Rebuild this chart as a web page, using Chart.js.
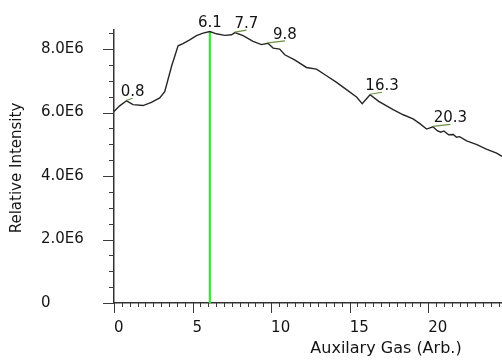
<!DOCTYPE html>
<html>
<head>
<meta charset="utf-8">
<script src="https://cdn.jsdelivr.net/npm/chart.js@4/dist/chart.umd.min.js"></script>
<style>
  html, body { margin: 0; padding: 0; background: #fff; }
  canvas { display: block; }
</style>
</head>
<body>
<canvas id="gasChart" width="502" height="361"></canvas>
<script>
// auxiliary gas sweep; intensity is in units of 1E6
const auxGas = [
  0.00, 0.36, 0.80, 1.21, 1.85, 2.38, 2.91, 3.23, 3.66, 4.08,
  4.39, 4.82, 5.25, 5.67, 6.10, 6.52, 7.05, 7.48, 7.70, 8.22,
  8.85, 9.39, 9.80, 10.13, 10.55, 10.87, 11.50, 12.25, 12.89, 13.53,
  14.17, 14.80, 15.44, 15.80, 16.30, 16.85, 17.77, 18.41, 19.04, 19.47,
  19.90, 20.30, 20.60, 20.81, 21.00, 21.30, 21.60, 21.80, 22.00, 22.45,
  23.10, 23.70, 24.36, 24.70
];
const intensity = [
  6.03, 6.21, 6.37, 6.25, 6.22, 6.32, 6.46, 6.66, 7.45, 8.10,
  8.17, 8.29, 8.42, 8.50, 8.55, 8.48, 8.43, 8.45, 8.52, 8.42,
  8.24, 8.14, 8.18, 8.03, 8.00, 7.82, 7.66, 7.42, 7.37, 7.16,
  6.95, 6.72, 6.49, 6.28, 6.56, 6.35, 6.09, 5.93, 5.80, 5.65,
  5.48, 5.55, 5.42, 5.38, 5.42, 5.30, 5.31, 5.22, 5.24, 5.11,
  4.99, 4.85, 4.72, 4.62
];

// labelled peaks and the chosen setting
const peakGas = [0.8, 6.1, 7.7, 9.8, 16.3, 20.3];
const optimumGas = 6.1;

const xTickLabels = ['0', '5', '10', '15', '20'];
const yTickLabels = ['0', '2.0E6', '4.0E6', '6.0E6', '8.0E6'];

const FONT = 'DejaVu Sans';
const INK = '#141414';

// how far right each peak label sits from its peak
const leaderDx = [6, 0, 11.5, 17, 12, 17.5];

function intensityAt(g) {
  return intensity[auxGas.indexOf(g)];
}

// drop the label overhang padding so the plot area is exactly where the layout puts it
function noOverhang(s) {
  s.paddingTop = 0;
  s.paddingBottom = 0;
  s.paddingLeft = 0;
  s.paddingRight = 0;
}

// minor/major tick marks, axis titles and the peak labels
const decorations = {
  id: 'decorations',
  afterDraw(chart) {
    const { ctx, chartArea: area, scales: { x, y } } = chart;
    ctx.save();

    ctx.strokeStyle = '#3a3a3a';
    ctx.lineWidth = 1;
    ctx.beginPath();
    x.ticks.forEach(t => {
      const px = Math.round(x.getPixelForValue(t.value)) + 0.5;
      const len = t.value % 5 === 0 ? 10 : 4;
      ctx.moveTo(px, area.bottom);
      ctx.lineTo(px, area.bottom + len);
    });
    y.ticks.forEach(t => {
      const py = Math.round(y.getPixelForValue(t.value)) + 0.5;
      const len = t.value % 2 === 0 ? 11 : 5;
      ctx.moveTo(area.left, py);
      ctx.lineTo(area.left - len, py);
    });
    ctx.stroke();

    ctx.fillStyle = INK;
    ctx.textAlign = 'center';
    ctx.textBaseline = 'middle';
    ctx.font = '16px "' + FONT + '"';
    ctx.fillText('Auxilary Gas (Arb.)', 386, 349);

    ctx.save();
    ctx.translate(17, 168);
    ctx.rotate(-Math.PI / 2);
    ctx.font = '15px "' + FONT + '"';
    ctx.fillText('Relative Intensity', 0, 0);
    ctx.restore();

    ctx.font = '15px "' + FONT + '"';
    ctx.lineWidth = 1.2;
    peakGas.forEach((g, i) => {
      const px = x.getPixelForValue(g);
      const py = y.getPixelForValue(intensityAt(g));
      const dx = leaderDx[i];
      if (dx > 0) {
        ctx.strokeStyle = '#6d8f3f';
        ctx.beginPath();
        ctx.moveTo(px, py - 0.5);
        ctx.lineTo(px + dx, py - 2.5);
        ctx.stroke();
      }
      ctx.fillText(g.toFixed(1), px + dx, py - 8.5);
    });

    ctx.restore();
  }
};

new Chart(document.getElementById('gasChart'), {
  type: 'line',
  data: {
    datasets: [
      {
        data: auxGas.map((g, i) => ({ x: g, y: intensity[i] })),
        borderColor: '#262626',
        borderWidth: 1.4,
        pointRadius: 0,
        tension: 0
      },
      {
        data: [{ x: optimumGas, y: 0 }, { x: optimumGas, y: intensityAt(optimumGas) }],
        borderColor: '#3ae43a',
        borderWidth: 2.2,
        pointRadius: 0
      }
    ]
  },
  options: {
    responsive: false,
    animation: false,
    devicePixelRatio: 1,
    layout: { padding: { top: 30, right: 0, bottom: 0, left: 41 } },
    plugins: { legend: { display: false }, tooltip: { enabled: false } },
    scales: {
      x: {
        type: 'linear',
        min: 0,
        max: 24.7,
        border: { color: '#333', width: 1.5 },
        grid: { display: false, drawTicks: false },
        ticks: {
          stepSize: 0.5,
          autoSkip: false,
          maxRotation: 0,
          includeBounds: false,
          align: 'start',
          padding: 16,
          color: INK,
          font: { family: FONT, size: 15 },
          callback: v => (v % 5 === 0 ? xTickLabels[v / 5] : '')
        },
        afterFit: s => { s.height = 58; noOverhang(s); }
      },
      y: {
        min: 0,
        max: 8.6,
        border: { color: '#333', width: 1.5 },
        grid: { display: false, drawTicks: false },
        ticks: {
          stepSize: 0.5,
          autoSkip: false,
          includeBounds: false,
          crossAlign: 'far',
          padding: 30,
          color: INK,
          font: { family: FONT, size: 15 },
          callback: v => (v % 2 === 0 ? yTickLabels[v / 2] : '')
        },
        afterFit: s => { s.width = 73; noOverhang(s); }
      }
    }
  },
  plugins: [decorations]
});
</script>
</body>
</html>
